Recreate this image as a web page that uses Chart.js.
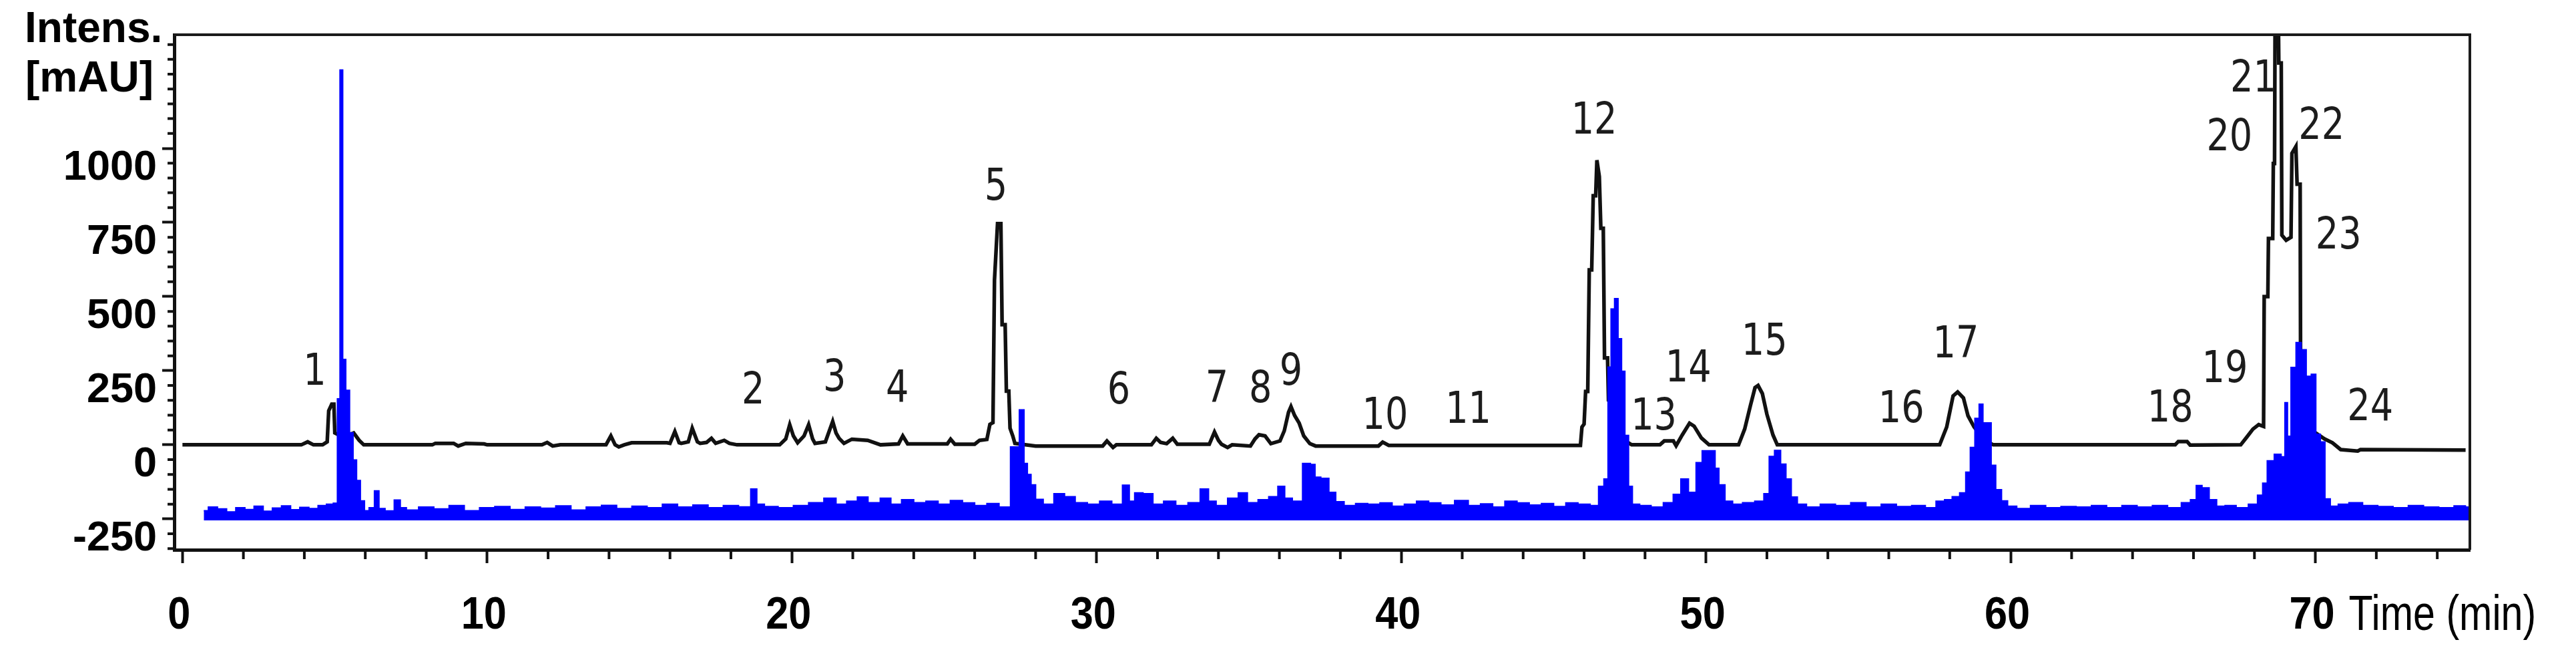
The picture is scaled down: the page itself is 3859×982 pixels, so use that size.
<!DOCTYPE html>
<html>
<head>
<meta charset="utf-8">
<title>Chromatogram</title>
<script src="https://cdn.jsdelivr.net/npm/chart.js@4.4.1/dist/chart.umd.min.js"></script>
<style>
  html, body { margin: 0; padding: 0; background: #fff; }
  #chartCanvas { display: block; }
</style>
</head>
<body>
<canvas id="chartCanvas" width="3859" height="982"></canvas>
<script>
// black trace (upper chromatogram), time in min / intensity in mAU
const blackTime = [
  0, 3.9, 4.11, 4.3, 4.6, 4.75, 4.8, 4.9, 4.97, 5.0, 5.1, 5.36, 5.62, 5.8, 5.95,
  8.2, 8.3, 8.9, 9.05, 9.3, 9.9, 10.0, 11.8, 11.97, 12.15, 12.4, 13.9, 14.06, 14.2, 14.32, 14.5, 14.74,
  15.9, 16.0, 16.16, 16.3, 16.37, 16.6, 16.73, 16.9, 16.99, 17.2, 17.36, 17.5, 17.78, 17.95, 18.2,
  19.6, 19.8, 19.93, 20.05, 20.19, 20.4, 20.55, 20.68, 20.76, 21.1, 21.34, 21.45, 21.55, 21.71, 21.97,
  22.49, 22.91, 23.5, 23.64, 23.8, 25.1, 25.21, 25.35, 26.0, 26.16, 26.4,
  26.5, 26.6, 26.65, 26.75, 26.86, 26.9, 27.0, 27.04, 27.12, 27.16, 27.25, 27.32,
  28.0, 30.2, 30.34, 30.54, 30.65, 31.8, 31.96, 32.1, 32.3, 32.5, 32.65, 33.7, 33.87, 34.0, 34.1, 34.3, 34.45,
  35.05, 35.2, 35.33, 35.53, 35.72, 36.02, 36.16, 36.3, 36.38, 36.5, 36.65, 36.8, 37.0, 37.19,
  39.25, 39.39, 39.59, 45.88,
  45.93, 46.0, 46.05, 46.12, 46.17, 46.25, 46.3, 46.38, 46.42, 46.5, 46.55, 46.63, 46.67, 46.77, 46.8, 46.9,
  47.0, 47.2, 47.4, 47.56,
  48.49, 48.63, 48.93, 49.02, 49.22, 49.46, 49.61, 49.85, 50.1,
  51.07, 51.27, 51.46, 51.61, 51.71, 51.85, 52.0, 52.2, 52.34,
  57.67, 57.9, 57.96, 58.11, 58.26, 58.45, 58.6, 58.8, 59.0, 59.2, 59.43,
  65.4, 65.5, 65.79, 65.89,
  67.55, 67.75, 67.95, 68.14, 68.3, 68.32, 68.44, 68.46, 68.6, 68.62, 68.66, 68.68, 68.78, 68.8, 68.88,
  68.9, 69.04, 69.2, 69.23, 69.36, 69.4, 69.5, 69.52, 70.0, 70.3, 70.56, 70.83, 71.39, 71.48, 74.93
];
const blackValue = [
  0, 0, 10, 0, 0, 10, 115, 137, 137, 40, 35, 29, 40, 15, 0,
  0, 5, 5, -4, 5, 3, 0, 0, 8, -4, 0, 0, 30, 0, -7, 0, 7,
  7, 5, 45, 7, 5, 10, 56, 10, 5, 8, 22, 5, 15, 5, 0,
  0, 20, 68, 30, 7, 30, 68, 20, 5, 10, 79, 40, 22, 5, 19,
  15, 0, 3, 30, 3, 3, 19, 2, 2, 15, 18,
  69, 75, 556, 746, 746, 405, 405, 181, 181, 56, 30, 5,
  -4, -4, 13, -9, 0, 0, 22, 8, 4, 22, 2, 2, 43, 15, 2, -9, 0,
  -4, 20, 34, 30, 4, 13, 47, 110, 129, 99, 73, 30, 4, -4,
  -4, 9, -2, -2,
  60, 70, 180, 180, 590, 590, 840, 840, 960, 905, 730, 730, 293, 293, 150, 141,
  100, 40, 10, 0,
  0, 13, 13, -3, 33, 73, 63, 23, 0,
  0, 53, 133, 193, 200, 173, 103, 33, 0,
  0, 60, 90, 165, 178, 158, 98, 60, 35, 12, 0,
  0, 11, 11, -1,
  0, 26, 53, 68, 62, 500, 500, 696, 696, 949, 949, 1500, 1500, 1288, 1288,
  707, 690, 700, 983, 1006, 879, 879, 41, 41, 20, 7, -16, -21, -16, -18
];

// blue trace (lower chromatogram), upper envelope of the noisy signal
const blueTime = [
  0.7, 1.0, 1.3, 1.6, 1.9, 2.2, 2.5, 2.8, 3.1, 3.4, 3.7, 4.0, 4.3, 4.6,
  4.85, 5.05, 5.12, 5.22, 5.3, 5.42, 5.55, 5.65, 5.78, 5.9, 6.05, 6.2, 6.4, 6.5, 6.8, 7.1, 7.2,
  7.5, 8.0, 8.5, 9.0, 9.5, 10.0, 10.5, 11.0, 11.5, 12.0, 12.5, 13.0, 13.5, 14.0, 14.5, 15.0, 15.5,
  16.0, 16.5, 17.0, 17.5, 18.0, 18.5, 18.8, 18.9, 19.3, 19.8, 20.3, 20.8, 21.3, 21.6, 22.0, 22.3,
  22.7, 23.1, 23.4, 23.8, 24.2, 24.6, 25.0, 25.4, 25.8, 26.2, 26.6, 27.0,
  27.35, 27.58, 27.66, 27.8, 27.9, 28.1, 28.4, 28.8, 29.1, 29.5, 29.9, 30.3, 30.7, 31.0, 31.15,
  31.35, 31.7, 32.0, 32.4, 32.8, 33.2, 33.6, 33.75, 34.1, 34.5, 34.8, 35.1, 35.5, 35.8, 36.1, 36.25,
  36.6, 36.92, 37.12, 37.22, 37.5, 37.75, 37.95, 38.3, 38.7, 39.1, 39.5, 39.9, 40.3, 40.7, 41.1,
  41.5, 42.0, 42.4, 42.8, 43.2, 43.6, 44.0, 44.4, 44.8, 45.2, 45.6, 46.0, 46.4,
  46.55, 46.75, 46.82, 46.95, 47.05, 47.18, 47.28, 47.4, 47.52, 47.65, 48.0, 48.4, 48.8,
  49.05, 49.3, 49.55, 49.8, 49.95, 50.25, 50.35, 50.5, 50.75, 51.0, 51.4, 51.8,
  52.0, 52.15, 52.35, 52.55, 52.7, 52.9, 53.1, 53.5, 54.0, 54.5, 55.0, 55.5, 56.0, 56.5, 57.0, 57.4, 57.7,
  57.96, 58.2, 58.45, 58.6, 58.75, 58.9, 59.03, 59.15, 59.3, 59.42, 59.6, 59.8, 60.0,
  60.4, 60.9, 61.4, 61.9, 62.4, 62.9, 63.4, 63.9, 64.4, 64.9, 65.4, 65.8,
  66.0, 66.18, 66.38, 66.65, 66.87, 67.2, 67.6, 68.0,
  68.2, 68.34, 68.5, 68.8, 68.95, 69.05, 69.12, 69.28, 69.45, 69.62, 69.78, 69.95, 70.08, 70.25, 70.38,
  70.6, 70.9, 71.3, 71.8, 72.3, 72.8, 73.3, 73.8, 74.3, 74.8, 75.05
];
const blueValue = [
  -222, -210, -216, -226, -212, -218, -207, -224, -213, -206, -219, -211, -215, -205,
  -200, -197, 155, 1264, 288, 184, 41, -51, -120, -189, -222, -212, -155, -215, -223, -186, -212,
  -220, -210, -216, -205, -222, -212, -208, -218, -210, -214, -206, -220, -210, -204, -215, -207, -212,
  -200, -210, -203, -212, -205, -209, -149, -200, -208, -212, -205, -195, -180, -200, -190, -176,
  -195, -180, -200, -185, -195, -190, -200, -188, -196, -205, -198, -210,
  -7, 118, -63, -100, -135, -184, -200, -165, -175, -195, -200, -190, -200, -136, -190,
  -162, -165, -200, -190, -205, -195, -149, -190, -205, -180, -162, -195, -185, -175, -140, -180,
  -190, -63, -66, -109, -113, -160, -192, -205, -198, -200, -196, -207, -200, -190, -196,
  -203, -188, -205, -199, -210, -190, -196, -203, -198, -208, -196, -200, -205,
  -140, -115, 262, 458, 493, 358, 248, 32, -140, -200, -205, -210, -195,
  -167, -115, -160, -60, -20, -20, -79, -135, -190, -200, -195, -190,
  -165, -39, -19, -65, -115, -176, -200, -210, -200, -205, -195, -210, -200, -208, -205, -212, -190,
  -185, -175, -162, -92, -9, 89, 137, 74, 74, -69, -151, -189, -207,
  -215, -205, -212, -208, -210, -205, -212, -205, -210, -205, -212, -195,
  -185, -137, -145, -185, -207, -205, -212, -200,
  -170, -129, -54, -32, -40, 142, 29, 261, 345, 321, 231, 238, 36, 10, -182,
  -207, -200, -195, -205, -208, -212, -205, -210, -212, -206, -210
];
const blueFloor = -255;

// peak numbering and where each number sits (time, intensity)
const peakNames = ['1', '2', '3', '4', '5', '6', '7', '8', '9', '10', '11', '12',
  '13', '14', '15', '16', '17', '18', '19', '20', '21', '22', '23', '24'];
const peakLabelTime = [4.34, 18.73, 21.4, 23.46, 26.7, 30.73, 33.95, 35.38, 36.38, 39.47, 42.2, 46.33,
  48.29, 49.42, 51.92, 56.41, 58.2, 65.24, 67.03, 67.18, 67.96, 70.2, 70.76, 71.8];
const peakLabelValue = [241, 178, 221, 185, 865, 178, 182, 182, 241, 92, 113, 1088,
  90, 252, 342, 115, 333, 117, 250, 1032, 1230, 1070, 700, 122];

// axes
const xTickValues = [0, 10, 20, 30, 40, 50, 60, 70];
const yTickValues = [-250, 0, 250, 500, 750, 1000];
const xMinorStep = 2;
const yMinorStep = 50;
const xRange = [-0.27, 75.07];
const yRange = [-354, 1383];
const xTitle = 'Time (min)';

function toPoints(times, values) {
    return times.map((t, i) => ({ x: t, y: values[i] }));
}

// text squeezed sideways, the figure uses condensed lettering
function narrowText(ctx, text, x, y, squeeze) {
    ctx.save();
    ctx.translate(x, y);
    ctx.scale(squeeze, 1);
    ctx.fillText(text, 0, 0);
    ctx.restore();
}

const decorations = {
    id: 'decorations',
    afterDraw(chart) {
        const ctx = chart.ctx;
        const area = chart.chartArea;
        const xs = chart.scales.x;
        const ys = chart.scales.y;
        ctx.save();

        // frame top and right
        ctx.strokeStyle = '#1a1a1a';
        ctx.lineWidth = 4;
        ctx.beginPath();
        ctx.moveTo(area.left, area.top);
        ctx.lineTo(area.right, area.top);
        ctx.lineTo(area.right, area.bottom);
        ctx.stroke();

        // minor ticks
        ctx.lineWidth = 4;
        ctx.strokeStyle = '#111';
        ctx.beginPath();
        for (let v = Math.ceil(yRange[0] / yMinorStep) * yMinorStep; v <= yRange[1]; v += yMinorStep) {
            if (yTickValues.includes(v)) continue;
            const py = ys.getPixelForValue(v);
            ctx.moveTo(area.left, py);
            ctx.lineTo(area.left - 10, py);
        }
        for (let v = 0; v <= xRange[1]; v += xMinorStep) {
            if (xTickValues.includes(v)) continue;
            const px = xs.getPixelForValue(v);
            ctx.moveTo(px, area.bottom);
            ctx.lineTo(px, area.bottom + 14);
        }
        ctx.stroke();

        // peak numbers
        ctx.fillStyle = '#1c1c1c';
        ctx.font = '66px "DejaVu Sans"';
        ctx.textAlign = 'center';
        ctx.textBaseline = 'middle';
        peakNames.forEach((name, i) => {
            narrowText(ctx, name, xs.getPixelForValue(peakLabelTime[i]), ys.getPixelForValue(peakLabelValue[i]), 0.82);
        });

        // x tick labels in condensed bold
        ctx.fillStyle = '#000';
        ctx.textBaseline = 'alphabetic';
        ctx.font = 'bold 68px "Liberation Sans", Arial, sans-serif';
        xTickValues.forEach(v => {
            narrowText(ctx, String(v), xs.getPixelForValue(v) - 5, area.bottom + 118, 0.9);
        });

        // axis captions
        ctx.textAlign = 'left';
        ctx.font = 'bold 64px "Liberation Sans", Arial, sans-serif';
        ctx.fillText('Intens.', 37, 63);
        ctx.fillText('[mAU]', 38, 137);
        ctx.font = '74px "Liberation Sans", Arial, sans-serif';
        narrowText(ctx, xTitle, xs.getPixelForValue(70) + 50, area.bottom + 120, 0.8);

        ctx.restore();
    }
};

const canvas = document.getElementById('chartCanvas');
const chart = new Chart(canvas.getContext('2d'), {
    type: 'line',
    data: {
        datasets: [
            {
                label: 'UV 2',
                data: toPoints(blueTime, blueValue),
                borderColor: '#0000ff',
                backgroundColor: '#0000ff',
                borderWidth: 2,
                stepped: 'middle',
                pointRadius: 0,
                fill: { value: blueFloor }
            },
            {
                label: 'UV 1',
                data: toPoints(blackTime, blackValue),
                borderColor: '#111111',
                borderWidth: 5.5,
                pointRadius: 0,
                tension: 0,
                fill: false
            }
        ]
    },
    options: {
        responsive: false,
        devicePixelRatio: 1,
        animation: false,
        layout: { autoPadding: false, padding: { left: 0, top: 52, right: 159, bottom: 0 } },
        plugins: {
            legend: { display: false },
            tooltip: { enabled: false }
        },
        scales: {
            x: {
                type: 'linear',
                min: xRange[0],
                max: xRange[1],
                afterFit: s => { s.height = 159; },
                afterBuildTicks: axis => { axis.ticks = xTickValues.map(v => ({ value: v })); },
                border: { display: true, width: 5, color: '#111' },
                grid: { drawOnChartArea: false, drawTicks: true, tickLength: 20, tickWidth: 4, tickColor: '#111' },
                ticks: {
                    callback: () => '',
                    maxRotation: 0
                }
            },
            y: {
                type: 'linear',
                min: yRange[0],
                max: yRange[1],
                afterFit: s => { s.width = 261; },
                afterBuildTicks: axis => { axis.ticks = yTickValues.map(v => ({ value: v })); },
                border: { display: true, width: 5, color: '#111' },
                grid: { drawOnChartArea: false, drawTicks: true, tickLength: 18, tickWidth: 4, tickColor: '#111' },
                ticks: {
                    color: '#000',
                    padding: 8,
                    labelOffset: 30,
                    callback: v => String(v),
                    font: { family: '"Liberation Sans", Arial, sans-serif', size: 63, weight: 'bold' }
                }
            }
        }
    },
    plugins: [decorations]
});
</script>
</body>
</html>
